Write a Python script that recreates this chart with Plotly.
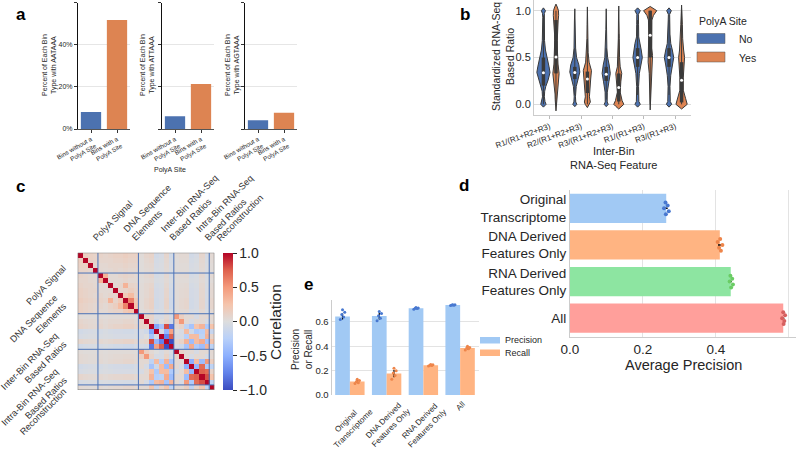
import plotly.graph_objects as go

W, H = 798, 449
FONT = "Liberation Sans, Arial, Helvetica, sans-serif"
TXT = "#262626"


def fx(p):
    return p / W


def fy(p):
    return 1 - p / H


# ---------------- data ----------------
# panel a
a_bin_types = ["Bins without a<br>PolyA Site", "Bins with a<br>PolyA Site"]
a_motifs = ["AATAAA", "ATTAAA", "AGTAAA"]
a_aataaa = [0.081, 0.517]
a_attaaa = [0.060, 0.213]
a_agtaaa = [0.041, 0.077]
a_pct_ticks = [0, 0.2, 0.4, 0.6]
a_pct_labels = ["0%", "20%", "40%", "60%"]

# panel b (violin density profiles: value levels and half widths)
b_features = ["R1/(R1+R2+R3)", "R2/(R1+R2+R3)", "R3/(R1+R2+R3)", "R1/(R1+R3)", "R3/(R1+R3)"]
b_no_vals = [
    [-0.03, 0, 0.03, 0.08, 0.14, 0.19, 0.26, 0.34, 0.40, 0.49, 0.58, 0.68, 0.8, 0.93, 0.97, 1.0, 1.03],
    [-0.025, 0, 0.025, 0.08, 0.19, 0.27, 0.345, 0.42, 0.5, 0.6, 0.75, 0.9, 1.02],
    [-0.025, 0, 0.025, 0.13, 0.24, 0.33, 0.42, 0.5, 0.6, 0.8, 1.02],
    [-0.03, 0, 0.03, 0.1, 0.19, 0.33, 0.42, 0.5, 0.58, 0.65, 0.72, 0.85, 0.96, 1.0, 1.03],
    [-0.03, 0, 0.03, 0.1, 0.19, 0.31, 0.42, 0.5, 0.58, 0.65, 0.75, 0.9, 0.96, 1.0, 1.03],
]
b_no_dens = [
    [0, .085, .05, .03, .04, .075, .15, .21, .18, .13, .065, .035, .025, .02, .03, .065, 0],
    [0, .065, .03, .02, .045, .105, .16, .13, .055, .025, .015, .012, 0],
    [0, .065, .03, .035, .085, .13, .095, .045, .02, .012, 0],
    [0, .085, .04, .03, .03, .055, .105, .15, .115, .085, .035, .03, .025, .085, 0],
    [0, .085, .04, .03, .03, .055, .105, .15, .105, .055, .03, .025, .02, .075, 0],
]
b_yes_vals = [
    [-0.07, -0.03, 0.05, 0.11, 0.22, 0.33, 0.43, 0.5, 0.58, 0.68, 0.75, 0.85, 0.9, 0.95, 1.0, 1.04, 1.07],
    [-0.035, 0.0, 0.025, 0.08, 0.19, 0.27, 0.36, 0.45, 0.55, 0.7, 0.85, 1.04],
    [-0.05, -0.02, 0.0, 0.04, 0.13, 0.24, 0.33, 0.4, 0.5, 0.7, 0.9, 1.05],
    [-0.06, 0.05, 0.2, 0.33, 0.45, 0.52, 0.6, 0.75, 0.9, 0.95, 1.0, 1.045],
    [-0.05, 0, 0.06, 0.15, 0.29, 0.42, 0.5, 0.58, 0.7, 0.85, 1.06],
]
b_yes_dens = [
    [0, .01, .025, .03, .055, .1, .065, .05, .045, .04, .045, .06, .07, .085, .08, .04, 0],
    [0, .07, .095, .065, .075, .105, .13, .055, .025, .015, .01, 0],
    [0, .1, .16, .105, .045, .065, .095, .045, .025, .015, .01, 0],
    [0, .015, .02, .03, .065, .075, .05, .045, .055, .105, .21, 0],
    [0, .18, .13, .055, .055, .075, .095, .065, .035, .025, 0],
]
b_no_median = [0.337, 0.34, 0.32, 0.5, 0.5]
b_yes_median = [0.505, 0.27, 0.18, 0.737, 0.256]
b_no_q1 = [0.2, 0.27, 0.25, 0.4, 0.4]
b_no_q3 = [0.5, 0.4, 0.4, 0.6, 0.6]
b_yes_q1 = [0.33, 0.12, 0.03, 0.5, 0.02]
b_yes_q3 = [0.9, 0.35, 0.33, 1.0, 0.45]
b_no_lo = [0.0, 0.1, 0.05, 0.1, 0.1]
b_no_hi = [0.95, 0.6, 0.6, 0.9, 0.9]
b_yes_lo = [0.0, 0.0, 0.0, 0.0, 0.0]
b_yes_hi = [1.0, 0.7, 0.75, 1.0, 1.0]

# panel c (upper triangle of correlation matrix, row i holds columns i..26)
c_groups = ["PolyA Signal", "DNA Sequence<br>Elements", "Inter-Bin RNA-Seq<br>Based Ratios",
            "Intra-Bin RNA-Seq<br>Based Ratios", "Reconstruction"]
c_group_sizes = [4, 8, 7, 7, 1]
c_upper = [
    [1, .15, .12, .10, .10, .08, .10, .12, .12, .15, .12, .12, .03, .08, .10, -.08, -.05, .08, -.08, .03, .05, .05, -.08, -.05, .08, -.05, .05],
    [1, .12, .10, .08, .08, .08, .10, .10, .12, .10, .10, .02, .06, .08, -.06, -.04, .06, -.06, .02, .04, .04, -.06, -.04, .06, -.04, .04],
    [1, .08, .06, .06, .08, .08, .08, .10, .08, .08, .02, .05, .06, -.05, -.03, .05, -.05, .02, .03, .03, -.05, -.03, .05, -.03, .03],
    [1, .06, .05, .06, .08, .06, .08, .06, .06, .02, .04, .05, -.04, -.03, .04, -.04, .02, .03, .03, -.04, -.03, .04, -.03, .03],
    [1, .35, .05, .05, .08, .10, .08, .05, .03, .06, .08, -.06, -.04, .06, -.06, .03, .04, .05, -.06, -.04, .06, -.04, .05],
    [1, .05, .05, .05, .08, .05, .05, .02, .04, .05, -.04, -.03, .04, -.04, .02, .03, .03, -.04, -.03, .04, -.03, .03],
    [1, .05, .08, .35, .10, .08, .03, .06, .08, -.06, -.04, .06, -.06, .03, .04, .05, -.06, -.04, .06, -.04, .05],
    [1, .08, .10, .15, .10, .03, .06, .10, -.07, -.05, .08, -.08, .03, .05, .06, -.07, -.05, .07, -.05, .06],
    [1, .20, .30, .10, .03, .06, .10, -.07, -.05, .08, -.08, .03, .05, .06, -.07, -.05, .07, -.05, .06],
    [1, .60, .20, .03, .08, .12, -.08, -.05, .10, -.10, .03, .06, .08, -.08, -.05, .08, -.06, .08],
    [1, .25, .03, .08, .12, -.08, -.05, .10, -.10, .03, .06, .08, -.08, -.05, .08, -.06, .08],
    [1, .02, .05, .08, -.05, -.04, .06, -.06, .02, .04, .05, -.05, -.04, .05, -.04, .05],
    [1, .10, .10, -.05, -.05, .05, -.05, .50, .15, .05, .05, -.05, .05, .05, .05],
    [1, .10, -.10, .00, .08, -.08, .15, .50, .05, -.05, .05, .05, -.05, .05],
    [1, -.55, -.35, .80, -.80, .05, .10, -.20, -.35, .25, .35, -.30, .25],
    [1, -.05, -.45, .45, .00, -.05, .30, -.10, -.30, -.25, .30, -.15],
    [1, -.75, .75, -.05, -.05, -.25, .30, .30, -.20, .35, .10],
    [1, -1.0, .05, .10, .35, -.40, .30, .40, -.35, .25],
    [1, -.05, -.10, -.35, .40, -.30, -.40, .35, -.20],
    [1, .10, .05, .05, -.05, .05, .05, .05],
    [1, .05, -.05, .05, .05, -.05, .05],
    [1, -.50, .30, -.40, .50, .15],
    [1, -.45, .70, -.30, -.20],
    [1, .75, .70, .10],
    [1, .80, .25],
    [1, -.20],
    [1],
]

# panel e
e_models = ["Original<br>Transcriptome", "DNA Derived<br>Features Only",
            "RNA Derived<br>Features Only", "All"]
e_precision = [0.645, 0.648, 0.712, 0.738]
e_recall = [0.110, 0.176, 0.244, 0.386]
e_precision_ci = [0.025, 0.028, 0.005, 0.003]
e_recall_ci = [0.012, 0.03, 0.005, 0.01]
e_precision_runs = [[0.62, 0.64, 0.66, 0.68, 0.70], [0.61, 0.63, 0.65, 0.67, 0.685],
                    [0.705, 0.71, 0.712, 0.715, 0.718], [0.735, 0.737, 0.738, 0.74, 0.742]]
e_recall_runs = [[0.095, 0.10, 0.11, 0.12, 0.13], [0.13, 0.16, 0.18, 0.20, 0.22],
                 [0.238, 0.242, 0.245, 0.248, 0.25], [0.37, 0.38, 0.385, 0.39, 0.40]]

# panel d
d_models = ["Original<br>Transcriptome", "DNA Derived<br>Features Only",
            "RNA Derived<br>Features Only", "All"]
d_avg_precision = [0.264, 0.411, 0.441, 0.585]
d_ci = [0.004, 0.005, 0.003, 0.003]
d_runs = [[0.262, 0.268, 0.258, 0.271, 0.263], [0.412, 0.405, 0.418, 0.409, 0.414],
          [0.440, 0.445, 0.438, 0.447, 0.442], [0.585, 0.590, 0.582, 0.588, 0.586]]

# ---------------- styles ----------------
DEEP_BLUE, DEEP_ORANGE = "#4c72b0", "#dd8452"
PASTEL = ["#a1c9f4", "#ffb482", "#8de5a1", "#ff9f9b"]
MUTED = ["#4878d0", "#ee854a", "#6acc64", "#d65f5f"]
JIT = [-0.06, 0.03, -0.02, 0.06, 0.0]
JIT_D = [-0.16, -0.08, 0.0, 0.08, 0.16]
OUTLINE = "#3a3a3a"

fig = go.Figure()

# ---------------- panel a ----------------
a_doms = [(78, 130), (162, 214), (245, 297)]
for i, vals in enumerate([a_aataaa, a_attaaa, a_agtaaa]):
    s = "" if i == 0 else str(i + 1)
    fig.add_trace(go.Bar(x=[0, 1], y=vals, width=0.78,
                         marker=dict(color=[DEEP_BLUE, DEEP_ORANGE], line=dict(width=0)),
                         xaxis="x" + s, yaxis="y" + s, showlegend=False, hoverinfo="skip"))

# ---------------- panel b ----------------
for k in range(len(b_features)):
    for hue, col, vals, dens, q1, q3, lo, hi, med, off in [
        ("No", DEEP_BLUE, b_no_vals[k], b_no_dens[k], b_no_q1[k], b_no_q3[k], b_no_lo[k], b_no_hi[k], b_no_median[k], -0.2),
        ("Yes", DEEP_ORANGE, b_yes_vals[k], b_yes_dens[k], b_yes_q1[k], b_yes_q3[k], b_yes_lo[k], b_yes_hi[k], b_yes_median[k], 0.2),
    ]:
        c = k + off
        xs = [c + w for w in dens] + [c - w for w in reversed(dens)]
        ys = list(vals) + list(reversed(vals))
        fig.add_trace(go.Scatter(x=xs, y=ys, mode="lines", fill="toself", fillcolor=col,
                                 line=dict(color=OUTLINE, width=1), xaxis="x4", yaxis="y4",
                                 showlegend=False, hoverinfo="skip"))
        fig.add_trace(go.Scatter(x=[c, c], y=[lo, hi], mode="lines", line=dict(color=OUTLINE, width=1),
                                 xaxis="x4", yaxis="y4", showlegend=False, hoverinfo="skip"))
        fig.add_trace(go.Scatter(x=[c, c], y=[q1, q3], mode="lines", line=dict(color=OUTLINE, width=3.5),
                                 xaxis="x4", yaxis="y4", showlegend=False, hoverinfo="skip"))
        fig.add_trace(go.Scatter(x=[c], y=[med], mode="markers", marker=dict(color="white", size=3),
                                 xaxis="x4", yaxis="y4", showlegend=False, hoverinfo="skip"))

# ---------------- panel c ----------------
n = len(c_upper)
z = [[c_upper[i][j - i] if j >= i else c_upper[j][i - j] for j in range(n)] for i in range(n)]
coolwarm = [[0.0, "#3b4cc0"], [0.125, "#6282ea"], [0.25, "#8db0fe"], [0.375, "#b8d0f9"],
            [0.5, "#dddddd"], [0.625, "#f5c4ac"], [0.75, "#f49a7b"], [0.875, "#de604d"], [1.0, "#b40426"]]
fig.add_trace(go.Heatmap(z=z, x=list(range(n)), y=list(range(n)), zmin=-1, zmax=1,
                         colorscale=coolwarm, xaxis="x5", yaxis="y5", hoverinfo="skip",
                         colorbar=dict(x=fx(223), xanchor="left", xpad=0, y=fy(321.5), yanchor="middle",
                                       ypad=0, len=137, lenmode="pixels", thickness=10, outlinewidth=0,
                                       tickvals=[-1, -0.5, 0, 0.5, 1], tickformat=".1f",
                                       ticks="outside", ticklen=4, tickcolor=TXT,
                                       tickfont=dict(size=14, color=TXT, family=FONT))))
bounds, centers, acc = [], [], 0
for s in c_group_sizes:
    centers.append(acc + (s - 1) / 2)
    acc += s
    bounds.append(acc - 0.5)
shapes = []
for b in bounds[:-1]:
    shapes.append(dict(type="line", xref="x5", yref="y5", x0=b, x1=b, y0=-0.5, y1=n - 0.5,
                       line=dict(color="#4a72b8", width=1)))
    shapes.append(dict(type="line", xref="x5", yref="y5", y0=b, y1=b, x0=-0.5, x1=n - 0.5,
                       line=dict(color="#4a72b8", width=1)))
shapes.append(dict(type="rect", xref="x5", yref="y5", x0=-0.5, x1=n - 0.5, y0=-0.5, y1=n - 0.5,
                   line=dict(color="#707070", width=1)))

# ---------------- panel e ----------------
xi = list(range(len(e_models)))
fig.add_trace(go.Bar(x=[i - 0.2 for i in xi], y=e_precision, width=0.4, marker=dict(color=PASTEL[0], line=dict(width=0)),
                     error_y=dict(type="data", array=e_precision_ci, color="black", thickness=1.2, width=0),
                     xaxis="x6", yaxis="y6", showlegend=False, hoverinfo="skip"))
fig.add_trace(go.Bar(x=[i + 0.2 for i in xi], y=e_recall, width=0.4, marker=dict(color=PASTEL[1], line=dict(width=0)),
                     error_y=dict(type="data", array=e_recall_ci, color="black", thickness=1.2, width=0),
                     xaxis="x6", yaxis="y6", showlegend=False, hoverinfo="skip"))
for runs, off, col in [(e_precision_runs, -0.2, MUTED[0]), (e_recall_runs, 0.2, MUTED[1])]:
    px_, py_ = [], []
    for i, r in enumerate(runs):
        for j, v in enumerate(r):
            px_.append(i + off + JIT[j])
            py_.append(v)
    fig.add_trace(go.Scatter(x=px_, y=py_, mode="markers", marker=dict(color=col, size=3),
                             xaxis="x6", yaxis="y6", showlegend=False, hoverinfo="skip"))

# ---------------- panel d ----------------
yi = list(range(len(d_models)))
fig.add_trace(go.Bar(y=yi, x=d_avg_precision, orientation="h", width=0.8,
                     marker=dict(color=PASTEL, line=dict(width=0)),
                     error_x=dict(type="data", array=d_ci, color="black", thickness=1.5, width=0),
                     xaxis="x7", yaxis="y7", showlegend=False, hoverinfo="skip"))
for i, r in enumerate(d_runs):
    fig.add_trace(go.Scatter(x=r, y=[i + JIT_D[j] for j in range(len(r))], mode="markers",
                             marker=dict(color=MUTED[i], size=4),
                             xaxis="x7", yaxis="y7", showlegend=False, hoverinfo="skip"))

# ---------------- layout ----------------
layout = dict(width=W, height=H, margin=dict(l=0, r=0, t=0, b=0), autosize=False,
              paper_bgcolor="white", plot_bgcolor="white", barmode="overlay",
              font=dict(family=FONT, color=TXT), showlegend=False)

for i, (x0, x1) in enumerate(a_doms):
    s = "" if i == 0 else str(i + 1)
    layout["xaxis" + s] = dict(domain=[fx(x0), fx(x1)], anchor="y" + s, range=[-0.5, 1.5],
                               tickvals=[0, 1], ticktext=a_bin_types, tickangle=-30,
                               tickfont=dict(size=6.3, color=TXT), ticks="outside", ticklen=3,
                               tickcolor="#333", showline=True, linecolor="#555", linewidth=1,
                               showgrid=False, zeroline=False, automargin=False, fixedrange=True)
    layout["yaxis" + s] = dict(domain=[fy(129), fy(2.5)], anchor="x" + s, range=[0, 0.6],
                               tickvals=a_pct_ticks, ticktext=a_pct_labels, showticklabels=(i == 0),
                               tickfont=dict(size=7, color=TXT), ticks="outside", ticklen=3,
                               tickcolor="#333", showline=True, linecolor="#111", linewidth=1,
                               showgrid=True, gridcolor="#e6e6e6", gridwidth=1, zeroline=False,
                               automargin=False, fixedrange=True)

layout["xaxis4"] = dict(domain=[fx(534), fx(691)], anchor="y4", range=[-0.5, 4.5],
                        tickvals=list(range(5)), ticktext=b_features, tickangle=-20,
                        tickfont=dict(size=8, color=TXT), ticks="outside", ticklen=3, tickcolor="#bbbbbb",
                        showline=True, linecolor="#cccccc", showgrid=False, zeroline=False, automargin=False)
layout["yaxis4"] = dict(domain=[fy(115), fy(0)], anchor="x4", range=[-0.114, 1.114],
                        tickvals=[0, 0.5, 1.0], tickformat=".1f", tickfont=dict(size=11, color=TXT),
                        showline=True, linecolor="#cccccc", showgrid=True, gridcolor="#dcdcdc",
                        zeroline=False, automargin=False)

layout["xaxis5"] = dict(domain=[fx(77.7), fx(214.3)], anchor="y5", range=[-0.5, n - 0.5],
                        showticklabels=False, ticks="", showgrid=False, zeroline=False,
                        showline=False, automargin=False)
layout["yaxis5"] = dict(domain=[fy(390), fy(252.7)], anchor="x5", range=[n - 0.5, -0.5],
                        showticklabels=False, ticks="", showgrid=False, zeroline=False,
                        showline=False, automargin=False)

layout["xaxis6"] = dict(domain=[fx(331.5), fx(478.5)], anchor="y6", range=[-0.5, 3.5],
                        showticklabels=False, showgrid=False, zeroline=False, showline=False,
                        automargin=False)
layout["yaxis6"] = dict(domain=[fy(395), fy(300)], anchor="x6", range=[0, 0.78],
                        tickvals=[0, 0.2, 0.4, 0.6], tickformat=".1f", tickfont=dict(size=9.5, color=TXT),
                        showgrid=True, gridcolor="#e3e3e3", showline=True, linecolor="#cccccc",
                        zeroline=False, automargin=False)

layout["xaxis7"] = dict(domain=[fx(570), fx(796)], anchor="y7", range=[0, 0.62],
                        tickvals=[0, 0.2, 0.4, 0.6], tickformat=".1f", tickfont=dict(size=13.5, color=TXT),
                        showgrid=True, gridcolor="#e3e3e3", showline=True, linecolor="#cccccc",
                        zeroline=False, automargin=False)
layout["yaxis7"] = dict(domain=[fy(336.5), fy(190)], anchor="x7", range=[3.5, -0.5],
                        tickvals=yi, ticktext=d_models, tickfont=dict(size=13.5, color=TXT),
                        showgrid=False, showline=True, linecolor="#cccccc", zeroline=False,
                        automargin=False)

# legends drawn as patches
shapes += [
    dict(type="rect", xref="paper", yref="paper", x0=fx(697), x1=fx(725), y0=fy(43.5), y1=fy(33.5),
         fillcolor=DEEP_BLUE, line=dict(color="#555", width=0.5)),
    dict(type="rect", xref="paper", yref="paper", x0=fx(697), x1=fx(725), y0=fy(62), y1=fy(52),
         fillcolor=DEEP_ORANGE, line=dict(color="#555", width=0.5)),
    dict(type="rect", xref="paper", yref="paper", x0=fx(480), x1=fx(500), y0=fy(343.5), y1=fy(337),
         fillcolor=PASTEL[0], line=dict(width=0)),
    dict(type="rect", xref="paper", yref="paper", x0=fx(480), x1=fx(500), y0=fy(356), y1=fy(349.5),
         fillcolor=PASTEL[1], line=dict(width=0)),
]
layout["shapes"] = shapes


def ann(text, x, y, size, angle=0, xanchor="center", bold=False, color=TXT):
    return dict(text=("<b>%s</b>" % text) if bold else text, x=fx(x), y=fy(y), xref="paper", yref="paper",
                showarrow=False, textangle=angle, xanchor=xanchor, yanchor="middle",
                font=dict(size=size, color=color, family=FONT))


anns = [
    ann("a", 21, 15, 17, bold=True, color="black"),
    ann("b", 465, 15, 17, bold=True, color="black"),
    ann("c", 20, 186, 17, bold=True, color="black"),
    ann("d", 464, 185, 17, bold=True, color="black"),
    ann("e", 308, 284, 17, bold=True, color="black"),
    ann("PolyA Site", 170, 170, 7),
    ann("Standardized RNA-Seq<br>Based Ratio", 503, 57, 10.5, angle=-90),
    ann("Inter-Bin<br>RNA-Seq Feature", 613, 158, 11),
    ann("PolyA Site", 723, 21, 10.5),
    ann("No", 737, 39, 10.5, xanchor="left"),
    ann("Yes", 737, 58, 10.5, xanchor="left"),
    ann("Precision<br>or Recall", 302, 350, 10, angle=-90),
    ann("Precision", 503, 340, 9, xanchor="left"),
    ann("Recall", 503, 353, 9, xanchor="left"),
    ann("Average Precision", 683, 364.5, 14.5),
    ann("Correlation", 275, 322, 15.5, angle=-90),
]
for m, xc in zip(a_motifs, [50, 148, 233]):
    anns.append(ann("Percent of Each Bin<br>Type with %s" % m, xc, 65, 7, angle=-90))

# heatmap group labels (rotated 45 degrees)
for cx, lab in zip(centers, c_groups):
    anns.append(dict(text=lab, x=cx, xref="x5", y=fy(245.5), yref="paper", showarrow=False,
                     textangle=-45, xanchor="left", yanchor="bottom", align="left",
                     font=dict(size=9.2, color="#333", family=FONT)))
    anns.append(dict(text=lab, x=fx(71), xref="paper", y=cx, yref="y5", yshift=3, showarrow=False,
                     textangle=-45, xanchor="right", yanchor="top", align="right",
                     font=dict(size=9.2, color="#333", family=FONT)))

# panel e category labels (rotated, centred under each group)
for i, lab in zip(xi, e_models):
    anns.append(dict(text=lab, x=i, xref="x6", y=fy(397), yref="paper", showarrow=False,
                     textangle=-45, xanchor="center", yanchor="top", align="center",
                     font=dict(size=8, color=TXT, family=FONT)))
layout["annotations"] = anns

fig.update_layout(**layout)
fig.write_html("out.html", config={"displayModeBar": False},
               post_script="document.body.style.margin='0';document.body.style.overflow='hidden';")
